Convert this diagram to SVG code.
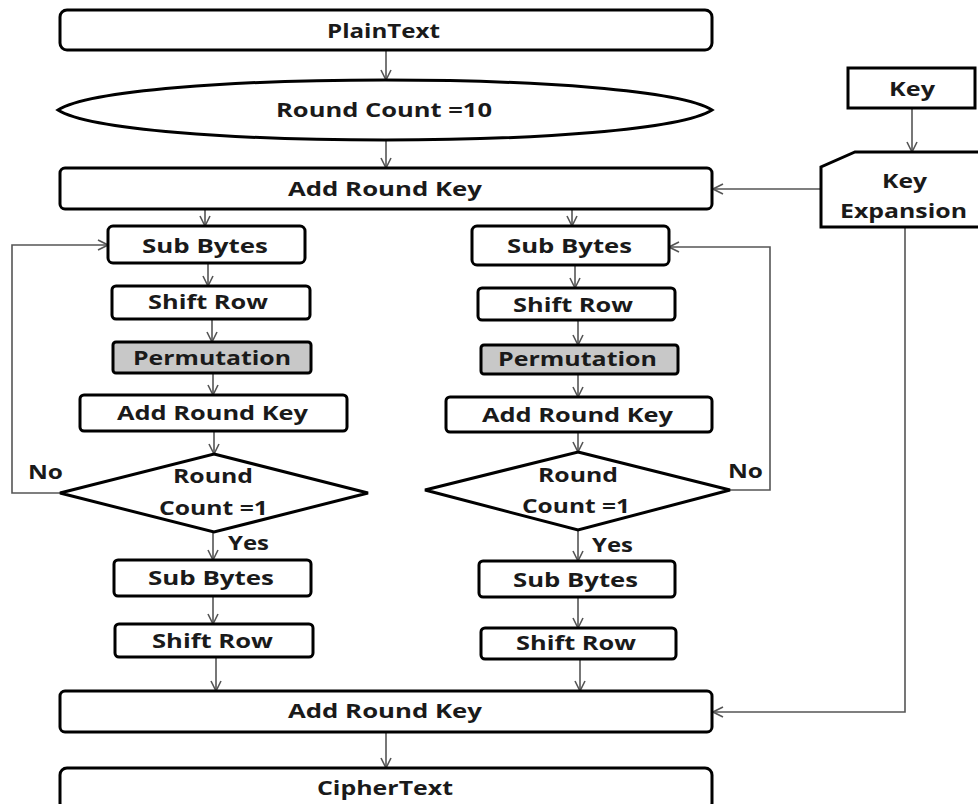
<svg xmlns="http://www.w3.org/2000/svg" width="978" height="804" viewBox="0 0 978 804">
<style>
.b{fill:#fff;stroke:#000;stroke-width:3}
.g{fill:#c8c8c8;stroke:#000;stroke-width:3}
.t{font-family:"Open Sans","Liberation Sans",sans-serif;font-weight:bold;font-size:19px;fill:#1a1a1a}
.c{fill:none;stroke:#555;stroke-width:1.6}
</style>
<defs>
<marker id="a" viewBox="0 0 12 12" refX="11" refY="6" markerWidth="12" markerHeight="12" markerUnits="userSpaceOnUse" orient="auto">
<path d="M1,1 L11,6 L1,11" fill="none" stroke="#555" stroke-width="1.6"/>
</marker>
</defs>
<rect width="978" height="804" fill="#fff"/>
<g id="connectors">
<path class="c" d="M386,50 V80" marker-end="url(#a)"/>
<path class="c" d="M386,138 V168" marker-end="url(#a)"/>
<path class="c" d="M912,108 V152" marker-end="url(#a)"/>
<path class="c" d="M821,189 H713" marker-end="url(#a)"/>
<path class="c" d="M905,227 V712 H713" marker-end="url(#a)"/>
<path class="c" d="M205,209 V226" marker-end="url(#a)"/>
<path class="c" d="M208,263 V286" marker-end="url(#a)"/>
<path class="c" d="M212,319 V342" marker-end="url(#a)"/>
<path class="c" d="M213,373 V395" marker-end="url(#a)"/>
<path class="c" d="M214,431 V454" marker-end="url(#a)"/>
<path class="c" d="M213,532 V560" marker-end="url(#a)"/>
<path class="c" d="M213,596 V624" marker-end="url(#a)"/>
<path class="c" d="M216,657 V691" marker-end="url(#a)"/>
<path class="c" d="M60,493 H12 V245 H108" marker-end="url(#a)"/>
<path class="c" d="M572,209 V226" marker-end="url(#a)"/>
<path class="c" d="M575,265 V288" marker-end="url(#a)"/>
<path class="c" d="M578,320 V345" marker-end="url(#a)"/>
<path class="c" d="M578,374 V397" marker-end="url(#a)"/>
<path class="c" d="M578,432 V452" marker-end="url(#a)"/>
<path class="c" d="M578,530 V561" marker-end="url(#a)"/>
<path class="c" d="M578,597 V628" marker-end="url(#a)"/>
<path class="c" d="M580,659 V691" marker-end="url(#a)"/>
<path class="c" d="M730,490 H770 V247 H669" marker-end="url(#a)"/>
<path class="c" d="M386,732 V768" marker-end="url(#a)"/>
</g>
<g id="plaintext"><rect class="b" x="60" y="10" width="652" height="40" rx="7"/><text class="t" x="327" y="38" textLength="113" lengthAdjust="spacingAndGlyphs">PlainText</text></g>
<g id="roundcount10"><path class="b" d="M58,110 C120,70 650,70 712,110 C650,150 120,150 58,110 Z"/><text class="t" x="276" y="117" textLength="216" lengthAdjust="spacingAndGlyphs">Round Count =10</text></g>
<g id="ark-top"><rect class="b" x="60" y="168" width="652" height="41" rx="5"/><text class="t" x="288" y="196" textLength="194" lengthAdjust="spacingAndGlyphs">Add Round Key</text></g>
<g id="key"><rect class="b" x="848" y="68" width="127" height="40"/><text class="t" x="889" y="96" textLength="46" lengthAdjust="spacingAndGlyphs">Key</text></g>
<g id="keyexp"><path class="b" d="M855,152 H985 V227 H821 V167 Z"/><text class="t" x="882" y="188" textLength="45" lengthAdjust="spacingAndGlyphs">Key</text><text class="t" x="840" y="218" textLength="127" lengthAdjust="spacingAndGlyphs">Expansion</text></g>
<g id="l-sub"><rect class="b" x="108" y="226" width="197" height="37" rx="5"/><text class="t" x="142" y="253" textLength="126" lengthAdjust="spacingAndGlyphs">Sub Bytes</text></g>
<g id="l-shift"><rect class="b" x="112" y="286" width="198" height="33" rx="4"/><text class="t" x="148" y="309" textLength="120" lengthAdjust="spacingAndGlyphs">Shift Row</text></g>
<g id="l-perm"><rect class="g" x="113" y="342" width="198" height="31" rx="3"/><text class="t" x="133" y="365" textLength="158" lengthAdjust="spacingAndGlyphs">Permutation</text></g>
<g id="l-ark"><rect class="b" x="80" y="395" width="267" height="36" rx="4"/><text class="t" x="117" y="420" textLength="191" lengthAdjust="spacingAndGlyphs">Add Round Key</text></g>
<g id="l-dec"><path class="b" d="M214,454 L368,493 L214,532 L60,493 Z"/><text class="t" x="173" y="483" textLength="80" lengthAdjust="spacingAndGlyphs">Round</text><text class="t" x="159" y="515" textLength="109" lengthAdjust="spacingAndGlyphs">Count =1</text></g>
<g id="l-sub2"><rect class="b" x="114" y="560" width="197" height="36" rx="4"/><text class="t" x="148" y="585" textLength="126" lengthAdjust="spacingAndGlyphs">Sub Bytes</text></g>
<g id="l-shift2"><rect class="b" x="115" y="624" width="198" height="33" rx="4"/><text class="t" x="152" y="648" textLength="121" lengthAdjust="spacingAndGlyphs">Shift Row</text></g>
<g id="r-sub"><rect class="b" x="472" y="226" width="197" height="39" rx="5"/><text class="t" x="507" y="253" textLength="125" lengthAdjust="spacingAndGlyphs">Sub Bytes</text></g>
<g id="r-shift"><rect class="b" x="478" y="288" width="197" height="32" rx="4"/><text class="t" x="513" y="312" textLength="120" lengthAdjust="spacingAndGlyphs">Shift Row</text></g>
<g id="r-perm"><rect class="g" x="481" y="345" width="197" height="29" rx="3"/><text class="t" x="498" y="366" textLength="159" lengthAdjust="spacingAndGlyphs">Permutation</text></g>
<g id="r-ark"><rect class="b" x="446" y="397" width="266" height="35" rx="4"/><text class="t" x="482" y="422" textLength="191" lengthAdjust="spacingAndGlyphs">Add Round Key</text></g>
<g id="r-dec"><path class="b" d="M578,452 L730,490 L578,530 L425,490 Z"/><text class="t" x="538" y="482" textLength="80" lengthAdjust="spacingAndGlyphs">Round</text><text class="t" x="522" y="513" textLength="108" lengthAdjust="spacingAndGlyphs">Count =1</text></g>
<g id="r-sub2"><rect class="b" x="479" y="561" width="196" height="36" rx="4"/><text class="t" x="513" y="587" textLength="125" lengthAdjust="spacingAndGlyphs">Sub Bytes</text></g>
<g id="r-shift2"><rect class="b" x="481" y="628" width="195" height="31" rx="4"/><text class="t" x="516" y="650" textLength="120" lengthAdjust="spacingAndGlyphs">Shift Row</text></g>
<g id="ark-bottom"><rect class="b" x="60" y="691" width="652" height="41" rx="5"/><text class="t" x="288" y="718" textLength="194" lengthAdjust="spacingAndGlyphs">Add Round Key</text></g>
<g id="ciphertext"><rect class="b" x="60" y="768" width="652" height="42" rx="7"/><text class="t" x="317" y="795" textLength="136" lengthAdjust="spacingAndGlyphs">CipherText</text></g>
<g id="labels">
<text class="t" x="28" y="479" textLength="35" lengthAdjust="spacingAndGlyphs">No</text>
<text class="t" x="728" y="478" textLength="35" lengthAdjust="spacingAndGlyphs">No</text>
<text class="t" x="228" y="550" textLength="41" lengthAdjust="spacingAndGlyphs">Yes</text>
<text class="t" x="592" y="552" textLength="41" lengthAdjust="spacingAndGlyphs">Yes</text>
</g>
</svg>
